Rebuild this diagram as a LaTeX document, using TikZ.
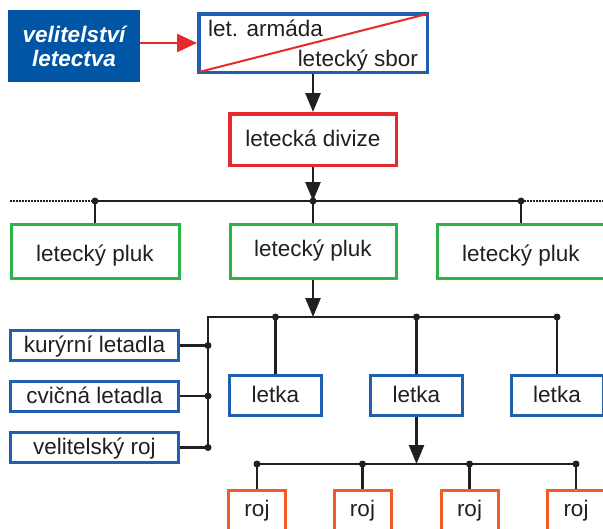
\documentclass[tikz,border=0pt]{standalone}
\usepackage{fontspec}
\setmainfont{Liberation Sans}
\usetikzlibrary{arrows.meta,calc}
\definecolor{cblue}{HTML}{1F5FAF}
\definecolor{cfill}{HTML}{0055A4}
\definecolor{cgreen}{HTML}{2DB34A}
\definecolor{cred}{HTML}{E42A2A}
\definecolor{corange}{HTML}{F15A29}
\definecolor{cink}{HTML}{231F20}
\begin{document}
\begin{tikzpicture}[x=1pt,y=-1pt,
  every node/.style={font=\fontsize{22.5}{24}\selectfont, text=cink, inner sep=0pt},
  boxbase/.style={draw, line width=3pt, rectangle, text height=19pt, text depth=5pt},
  bbox/.style={boxbase, draw=cblue},
  gbox/.style={boxbase, draw=cgreen, minimum width=168, minimum height=54},
  rbox/.style={boxbase, draw=cred, line width=3.5pt},
  obox/.style={boxbase, draw=corange, anchor=north, minimum width=57, text height=26pt, text depth=40pt},
  sidebox/.style={bbox, minimum width=168, minimum height=30},
  letkabox/.style={bbox, minimum width=92, minimum height=40},
  conn/.style={draw=cink, line width=2.5pt},
  arr/.style={conn, -{Triangle[length=19pt,width=15pt]}},
  dotline/.style={draw=cink, line width=2pt, dash pattern=on 1.5pt off 1.5pt},
  jdot/.style={fill=cink}
]
\clip (0,0) rectangle (603,528);
\fill[white] (0,0) rectangle (603,528);

% top row
\node[fill=cfill, minimum width=132, minimum height=72, text=white,
      font=\fontsize{22.5}{24}\selectfont\bfseries\itshape, align=center] (vel) at (74,46) {velitelství\\letectva};
\node[bbox, line width=3.5pt, minimum width=228.5, minimum height=58.5] (arm) at (313,43) {};
\draw[cred, line width=2pt] ($(arm.south west)+(2,-2)$) -- ($(arm.north east)+(-2,2)$);
\node[anchor=base west] (armA) at (208,36) {let. armáda};
\node[anchor=base east] (armB) at (418,66) {letecký sbor};
\draw[cred, line width=2.5pt, -{Triangle[length=20pt,width=18pt]}] (vel.east |- arm.west) -- (arm.west);

\node[rbox, minimum width=166.5, minimum height=51.5] (div) at (313,139.5) {letecká divize};
\draw[arr] (arm.south) -- (div.north);

% regiments
\node[gbox, text height=24pt] (p1) at (95,251.5) {letecký pluk};
\node[gbox, minimum width=166, text height=15.4pt] (p2) at (313,251.5) {letecký pluk};
\node[gbox, text height=24pt] (p3) at (521,251.5) {letecký pluk};

\coordinate (b1L) at (10,201);
\coordinate (b1a) at (95,201);
\coordinate (b1b) at (313,201);
\coordinate (b1c) at (521,201);
\coordinate (b1R) at (603,201);
\draw[dotline] (b1L) -- (b1a);
\draw[dotline] (b1c) -- (b1R);
\draw[conn] (b1a) -- (b1c);
\draw[conn] (b1a) -- (p1.north);
\draw[conn] (b1b) -- (p2.north);
\draw[conn] (b1c) -- (p3.north);
\draw[arr] (div.south) -- (b1b);
\foreach \c in {b1a,b1b,b1c} \fill[jdot] (\c) circle (3.5pt);

% squadrons
\node[sidebox] (kur) at (94.5,345.5) {kurýrní letadla};
\node[sidebox] (cvi) at (94.5,396) {cvičná letadla};
\node[sidebox] (vro) at (94.5,447.5) {velitelský roj};
\node[letkabox] (l1) at (275.5,395.5) {letka};
\node[letkabox] (l2) at (416.5,395.5) {letka};
\node[letkabox] (l3) at (557,395.5) {letka};

\coordinate (b2K) at (208,317);
\coordinate (b2a) at (275.5,317);
\coordinate (b2m) at (313,317);
\coordinate (b2b) at (416.5,317);
\coordinate (b2c) at (557,317);
\coordinate (s1) at (208,345.5);
\coordinate (s2) at (208,396);
\coordinate (s3) at (208,447.5);
\draw[conn, line join=miter] (s3) -- (b2K) -- (b2c);
\draw[conn] (kur.east) -- (s1);
\draw[conn] (cvi.east) -- (s2);
\draw[conn] (vro.east) -- (s3);
\draw[conn] (b2a) -- (l1.north);
\draw[conn] (b2b) -- (l2.north);
\draw[conn] (b2c) -- (l3.north);
\draw[arr] (p2.south) -- (b2m);
\foreach \c in {b2a,b2b,b2c,s1,s2,s3} \fill[jdot] (\c) circle (3.5pt);

% flights
\node[obox] (r1) at (257,489) {roj};
\node[obox] (r2) at (362.5,489) {roj};
\node[obox] (r3) at (469.5,489) {roj};
\node[obox] (r4) at (576,489) {roj};
\coordinate (b3a) at (257,464);
\coordinate (b3b) at (362.5,464);
\coordinate (b3m) at (416.5,464);
\coordinate (b3c) at (469.5,464);
\coordinate (b3d) at (576,464);
\draw[conn] (b3a) -- (b3d);
\draw[conn] (b3a) -- (r1.north);
\draw[conn] (b3b) -- (r2.north);
\draw[conn] (b3c) -- (r3.north);
\draw[conn] (b3d) -- (r4.north);
\draw[arr] (l2.south) -- (b3m);
\foreach \c in {b3a,b3b,b3c,b3d} \fill[jdot] (\c) circle (3.5pt);
\end{tikzpicture}
\end{document}
